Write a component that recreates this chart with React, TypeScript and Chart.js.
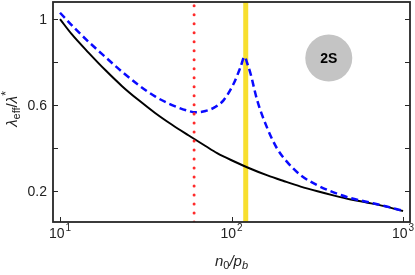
import React, { useEffect, useRef } from "react";
import { Chart, registerables } from "chart.js";

Chart.register(...registerables);

// ---- data ----
const blackX = [10, 11.7, 14.7, 18.3, 23, 28.7, 36, 45, 56.3, 70.5, 82.4, 103, 124, 162, 203, 253, 317, 397, 496, 621, 776, 1000];
const blackY = [1.0, 0.93, 0.843, 0.764, 0.688, 0.623, 0.562, 0.508, 0.458, 0.409, 0.376, 0.338, 0.309, 0.272, 0.245, 0.220, 0.198, 0.178, 0.160, 0.145, 0.129, 0.106];

const blueX = [10, 12.2, 14.7, 18.3, 23, 28.7, 36, 45, 56.3, 61.5, 70.5, 80, 90, 103, 113, 119, 124, 129, 141, 162, 185, 212, 253, 317, 397, 496, 621, 813, 1000];
const blueY = [1.03, 0.957, 0.894, 0.825, 0.755, 0.693, 0.639, 0.600, 0.572, 0.566, 0.572, 0.59, 0.623, 0.70, 0.778, 0.825, 0.79, 0.747, 0.623, 0.49, 0.395, 0.333, 0.273, 0.226, 0.192, 0.166, 0.148, 0.126, 0.107];

const redLineX = 60.5;
const yellowLineX = 121;

const xTickValues = [10, 100, 1000];
const xTickExponents = ["1", "2", "3"];
const yTickValues = [0.2, 0.4, 0.6, 0.8, 1.0];
const yTickLabels = ["0.2", "", "0.6", "", "1"];

const badgeText = "2S";
const badgeX = 369;
const badgeY = 0.819;

const X_MIN = 9.1;
const X_MAX = 1098;
const Y_MIN = 0.055;
const Y_MAX = 1.08;

const FONT = "'Liberation Sans', Arial, Helvetica, sans-serif";

const decorPlugin = {
  id: "decor",
  afterDatasetsDraw(chart: any) {
    const { ctx, chartArea } = chart;
    const xs = chart.scales.x;
    const ys = chart.scales.y;
    const { left, right, top, bottom } = chartArea;
    ctx.save();

    // badge
    const bx = xs.getPixelForValue(badgeX);
    const by = ys.getPixelForValue(badgeY);
    ctx.fillStyle = "#c4c4c4";
    ctx.beginPath();
    ctx.arc(bx, by, 23.5, 0, Math.PI * 2);
    ctx.fill();
    ctx.fillStyle = "#000";
    ctx.font = `bold 14px ${FONT}`;
    ctx.textAlign = "center";
    ctx.textBaseline = "middle";
    ctx.fillText(badgeText, bx, by + 1);

    // frame
    ctx.strokeStyle = "#262626";
    ctx.lineWidth = 1.8;
    ctx.strokeRect(left, top, right - left, bottom - top);

    // ticks
    ctx.lineWidth = 1;
    ctx.beginPath();
    xTickValues.forEach((v) => {
      const px = Math.round(xs.getPixelForValue(v)) + 0.5;
      ctx.moveTo(px, bottom);
      ctx.lineTo(px, bottom - 5);
    });
    yTickValues.forEach((v) => {
      const py = Math.round(ys.getPixelForValue(v)) + 0.5;
      ctx.moveTo(left, py);
      ctx.lineTo(left + 5, py);
      ctx.moveTo(right, py);
      ctx.lineTo(right - 5, py);
    });
    ctx.stroke();

    // y tick labels
    ctx.fillStyle = "#222";
    ctx.font = `14px ${FONT}`;
    ctx.textAlign = "right";
    ctx.textBaseline = "middle";
    yTickValues.forEach((v, i) => {
      if (!yTickLabels[i]) return;
      ctx.fillText(yTickLabels[i], left - 6, ys.getPixelForValue(v) + 1);
    });

    // x tick labels: 10^n
    ctx.textBaseline = "alphabetic";
    ctx.textAlign = "left";
    xTickValues.forEach((v, i) => {
      const px = xs.getPixelForValue(v);
      ctx.font = `14px ${FONT}`;
      const w1 = ctx.measureText("10").width;
      ctx.font = `10px ${FONT}`;
      const w2 = ctx.measureText(xTickExponents[i]).width;
      const start = px - (w1 + w2 + 1) / 2;
      ctx.font = `14px ${FONT}`;
      ctx.fillText("10", start, 238);
      ctx.font = `10px ${FONT}`;
      ctx.fillText(xTickExponents[i], start + w1 + 1, 231);
    });

    // x title: n0/pb
    const parts: [string, string, number][] = [
      ["n", `italic 15px ${FONT}`, 0],
      ["0", `11px ${FONT}`, 3],
      ["/", `italic 15px ${FONT}`, 0],
      ["p", `italic 15px ${FONT}`, 0],
      ["b", `italic 11px ${FONT}`, 3],
    ];
    let total = 0;
    parts.forEach(([t, f]) => {
      ctx.font = f;
      total += ctx.measureText(t).width;
    });
    let cx = (left + right) / 2 - total / 2;
    const baseX = 266;
    parts.forEach(([t, f, dy]) => {
      ctx.font = f;
      ctx.fillText(t, cx, baseX + dy);
      cx += ctx.measureText(t).width;
    });

    // y title: λeff/λ*
    const yparts: [string, string, number][] = [
      ["λ", `italic 15px ${FONT}`, 0],
      ["eff", `11px ${FONT}`, 3],
      ["/", `15px ${FONT}`, 0],
      ["λ", `italic 15px ${FONT}`, 0],
      ["*", `12px ${FONT}`, -7],
    ];
    let ytotal = 0;
    yparts.forEach(([t, f]) => {
      ctx.font = f;
      ytotal += ctx.measureText(t).width;
    });
    ctx.translate(17, (top + bottom) / 2 - 3);
    ctx.rotate(-Math.PI / 2);
    let yx = -ytotal / 2;
    yparts.forEach(([t, f, dy]) => {
      ctx.font = f;
      ctx.fillText(t, yx, dy);
      yx += ctx.measureText(t).width;
    });

    ctx.restore();
  },
};

export default function App() {
  const ref = useRef<HTMLCanvasElement | null>(null);

  useEffect(() => {
    if (!ref.current) return;
    const chart = new Chart(ref.current, {
      type: "line",
      data: {
        datasets: [
          {
            label: "yellow",
            data: [
              { x: yellowLineX, y: Y_MIN },
              { x: yellowLineX, y: Y_MAX },
            ],
            borderColor: "#f8df2e",
            borderWidth: 5,
            pointRadius: 0,
            order: 4,
          },
          {
            label: "black",
            data: blackX.map((x, i) => ({ x, y: blackY[i] })),
            borderColor: "#000000",
            borderWidth: 2,
            pointRadius: 0,
            cubicInterpolationMode: "monotone",
            order: 3,
          },
          {
            label: "blue",
            data: blueX.map((x, i) => ({ x, y: blueY[i] })),
            borderColor: "#0a0aff",
            borderWidth: 2.5,
            borderDash: [7, 4],
            pointRadius: 0,
            cubicInterpolationMode: "monotone",
            order: 2,
          },
          {
            label: "red",
            data: [
              { x: redLineX, y: Y_MIN },
              { x: redLineX, y: Y_MAX },
            ],
            borderColor: "#ff2a2a",
            borderWidth: 3,
            borderDash: [0.01, 9],
            borderCapStyle: "round",
            pointRadius: 0,
            order: 1,
          },
        ],
      },
      options: {
        animation: false,
        responsive: false,
        maintainAspectRatio: false,
        devicePixelRatio: 1,
        layout: { padding: { top: 2, right: 5, left: 0, bottom: 0 } },
        plugins: {
          legend: { display: false },
          tooltip: { enabled: false },
        },
        scales: {
          x: {
            type: "logarithmic",
            min: X_MIN,
            max: X_MAX,
            grid: { display: false },
            border: { display: false },
            ticks: { display: false },
            afterFit: (s: any) => {
              s.height = 53;
            },
          },
          y: {
            type: "linear",
            min: Y_MIN,
            max: Y_MAX,
            grid: { display: false },
            border: { display: false },
            ticks: { display: false },
            afterFit: (s: any) => {
              s.width = 53;
            },
          },
        },
      },
      plugins: [decorPlugin],
    } as any);
    return () => chart.destroy();
  }, []);

  return (
    <div style={{ position: "fixed", left: 0, top: 0, width: 415, height: 275, background: "#fff" }}>
      <canvas ref={ref} width={415} height={275} style={{ width: 415, height: 275, display: "block" }} />
    </div>
  );
}
